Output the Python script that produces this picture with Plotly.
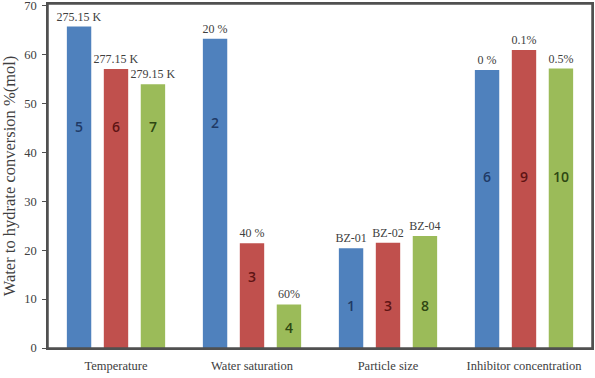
import plotly.graph_objects as go

categories = ["Temperature", "Water saturation", "Particle size", "Inhibitor concentration"]

blue_values = [65.7, 63.2, 20.4, 56.8]
red_values = [57.0, 21.4, 21.5, 60.9]
green_values = [53.9, 8.9, 22.9, 57.1]

blue_conditions = ["275.15 K", "20 %", "BZ-01", "0 %"]
red_conditions = ["277.15 K", "40 %", "BZ-02", "0.1%"]
green_conditions = ["279.15 K", "60%", "BZ-04", "0.5%"]

blue_runs = ["5", "2", "1", "6"]
red_runs = ["6", "3", "3", "9"]
green_runs = ["7", "4", "8", "10"]

y_ticks = [0, 10, 20, 30, 40, 50, 60, 70]

# layout / styling
BARGAP = 0.185
BARGROUPGAP = 0.34
colors = ["#4F81BD", "#C0504D", "#9BBB59"]
run_colors = ["#1F3A66", "#5E1414", "#2E4712"]
# heights (data units) at which the run numbers sit inside each bar
run_label_y = [
    [45.3, 46.0, 8.6, 35.0],
    [45.3, 14.6, 8.6, 35.0],
    [45.3, 4.1, 8.6, 35.0],
]

serif = "Liberation Serif, Times New Roman, serif"

fig = go.Figure()
series = [
    (blue_values, blue_conditions, blue_runs),
    (red_values, red_conditions, red_runs),
    (green_values, green_conditions, green_runs),
]
for k, (vals, conds, runs) in enumerate(series):
    fig.add_trace(go.Bar(
        x=categories, y=vals, text=conds, textposition="outside",
        textfont=dict(family=serif, size=12, color="#404040"),
        constraintext="none", cliponaxis=False,
        marker=dict(color=colors[k], line=dict(width=0)),
        showlegend=False, hoverinfo="x+y",
    ))

pitch = (1 - BARGAP) / 3
for k, (vals, conds, runs) in enumerate(series):
    for i, r in enumerate(runs):
        fig.add_annotation(
            x=i + (k - 1) * pitch, y=run_label_y[k][i], xref="x", yref="y",
            text=r, showarrow=False,
            font=dict(family="Open Sans, Liberation Sans, sans-serif", size=14,
                      weight=600, color=run_colors[k]),
        )

# plot-area frame
fig.add_shape(type="rect", xref="paper", yref="paper", x0=0, y0=0, x1=1, y1=1,
              line=dict(color="#505050", width=1.5), layer="above")

fig.update_layout(
    width=595, height=378,
    margin=dict(l=48, r=3, t=4, b=30),
    barmode="group", bargap=BARGAP, bargroupgap=BARGROUPGAP,
    plot_bgcolor="white", paper_bgcolor="white",
    font=dict(family=serif, size=12, color="#404040"),
)
fig.update_xaxes(
    type="category", showline=True, linecolor="#505050", linewidth=1.5, mirror=True,
    ticks="", showgrid=False, automargin=False, ticklabelstandoff=5,
    tickfont=dict(family=serif, size=12.5, color="#404040"),
)
fig.update_yaxes(
    range=[0, 70.3], tickvals=y_ticks, showline=True, linecolor="#505050", linewidth=1.5,
    mirror=True, ticks="outside", ticklen=4, tickcolor="#505050", showgrid=False,
    zeroline=False, automargin=False, ticklabeloverflow="allow", ticklabelstandoff=3,
    tickfont=dict(family=serif, size=12.5, color="#404040"),
    title=dict(text="Water to hydrate conversion %(mol)", standoff=4,
               font=dict(family=serif, size=16.5, color="#404040")),
)

fig.write_html("out.html", config={"displayModeBar": False},
               post_script="document.body.style.margin='0';document.body.style.padding='0';")
